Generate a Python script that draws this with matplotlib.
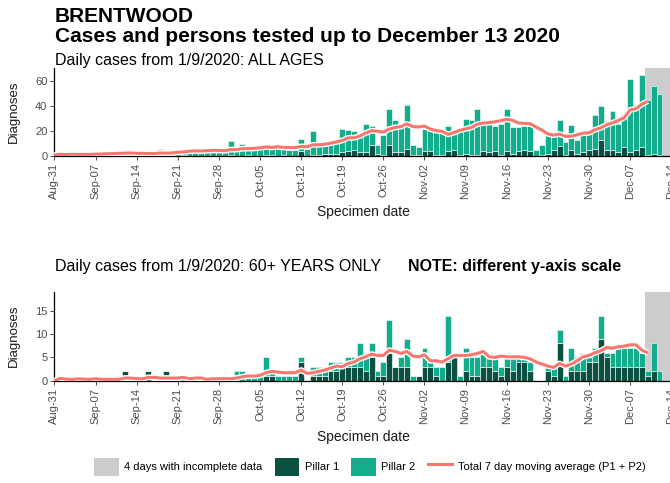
import matplotlib
matplotlib.use("Agg")
import matplotlib.pyplot as plt
from matplotlib.patches import Patch
from matplotlib.lines import Line2D
import numpy as np
import pandas as pd

plt.rcParams["font.family"] = ["Liberation Sans", "DejaVu Sans"]

# ==========================
# Data
# ==========================

START = "2020-08-31"
dates = pd.date_range(START, periods=105)

# all ages: total diagnoses per day and the pillar 1 part of it
all_total = [
    1, 2, 1, 2, 1, 2, 1, 3, 2, 3, 2, 3, 3, 2, 1, 2, 2, 2, 6, 2, 3,
    5, 4, 6, 4, 5, 4, 5, 4, 3, 12, 4, 10, 5, 6, 7, 8, 9, 8, 6, 5, 5,
    14, 6, 20, 8, 9, 11, 12, 22, 21, 20, 18, 26, 24, 9, 17, 38, 29, 23, 41, 9, 7,
    22, 21, 20, 19, 24, 19, 20, 30, 29, 38, 26, 26, 24, 26, 38, 23, 23, 24, 24, 5,
    9, 17, 16, 29, 11, 25, 13, 18, 19, 33, 40, 28, 36, 26, 34, 62, 40, 65, 45, 56, 50, 0,
]
all_p1 = [
    0, 0, 0, 0, 0, 0, 0, 0, 1, 0, 0, 0, 2, 0, 0, 0, 2, 0, 0, 2, 0,
    0, 1, 0, 0, 0, 0, 0, 0, 0, 1, 0, 0, 1, 0, 0, 1, 1, 0, 1, 0, 0,
    4, 0, 1, 1, 2, 2, 2, 3, 4, 5, 3, 3, 9, 2, 1, 9, 3, 3, 6, 1, 1,
    4, 4, 1, 1, 4, 5, 1, 2, 1, 1, 4, 3, 4, 1, 4, 2, 4, 5, 4, 0,
    1, 2, 5, 8, 1, 5, 2, 3, 5, 6, 13, 5, 5, 3, 7, 3, 5, 7, 1, 2, 1, 0,
]

# 60+ years only
old_total = [
    0, 1, 0, 0, 1, 0, 0, 1, 0, 0, 0, 1, 2, 0, 0, 0, 2, 0, 0, 2, 0,
    0, 1, 0, 1, 0, 0, 1, 0, 1, 0, 2, 2, 1, 1, 1, 5, 2, 1, 1, 1, 1,
    5, 0, 3, 3, 3, 4, 4, 4, 5, 5, 8, 6, 8, 2, 4, 13, 3, 5, 9, 1, 1,
    7, 4, 3, 3, 14, 6, 1, 7, 5, 5, 6, 6, 5, 3, 6, 5, 5, 5, 4, 0,
    0, 3, 3, 11, 1, 7, 5, 6, 5, 7, 14, 6, 6, 7, 7, 7, 7, 6, 2, 8, 2, 0,
]
old_p1 = [
    0, 0, 0, 0, 0, 0, 0, 0, 0, 0, 0, 0, 2, 0, 0, 0, 2, 0, 0, 2, 0,
    0, 0, 0, 0, 0, 0, 0, 0, 0, 0, 0, 0, 0, 0, 0, 1, 1, 0, 0, 0, 0,
    4, 0, 1, 1, 1, 2, 2, 3, 3, 3, 3, 2, 5, 1, 1, 6, 3, 3, 3, 0, 1,
    3, 3, 1, 0, 4, 5, 0, 2, 1, 1, 3, 3, 2, 1, 3, 2, 4, 4, 2, 0,
    0, 2, 1, 8, 0, 2, 2, 2, 4, 4, 9, 5, 3, 3, 3, 3, 3, 3, 1, 2, 0, 0,
]

INCOMPLETE_FROM = pd.Timestamp("2020-12-10")
MA_END = pd.Timestamp("2020-12-10")
X_END = pd.Timestamp("2020-12-14")

week_ticks = pd.date_range(START, X_END, freq="7D")

P1_COLOR = "#0B5142"
P2_COLOR = "#12AD8C"
GREY = "#CCCCCC"
RED = "#F8766D"
TEXT_GREY = "#4D4D4D"

# ==========================
# Figure
# ==========================

fig = plt.figure(figsize=(6.7, 4.83), dpi=100)

W, H = 670.0, 483.0
ax_left = 54.4 / W
ax_width = (671.2 - 54.4) / W

ax_top = fig.add_axes([ax_left, 1 - 156.2 / H, ax_width, (156.2 - 68) / H])
ax_bot = fig.add_axes([ax_left, 1 - 380.7 / H, ax_width, (380.7 - 292.3) / H])


def draw_panel(ax, total, p1, ymax, yticks):

    total = np.array(total)
    p1 = np.array(p1)
    p2 = total - p1

    ax.axvspan(INCOMPLETE_FROM - pd.Timedelta(hours=12),
               X_END + pd.Timedelta(days=2),
               color=GREY, lw=0, zorder=0)

    ax.bar(dates, p1, width=1.0, color=P1_COLOR,
           edgecolor="white", linewidth=0.4, zorder=2)
    ax.bar(dates, p2, bottom=p1, width=1.0, color=P2_COLOR,
           edgecolor="white", linewidth=0.4, zorder=2)

    # trailing 7 day average, stopped at the first incomplete day
    ma = pd.Series(total, index=dates).rolling(7, min_periods=1).mean()
    ma = ma[ma.index <= MA_END]
    ax.plot(ma.index, ma.values, color="white", lw=4.2,
            solid_capstyle="butt", zorder=3)
    ax.plot(ma.index, ma.values, color=RED, lw=2.2,
            solid_capstyle="butt", zorder=4)

    ax.set_xlim(dates[0], X_END)
    ax.set_ylim(0, ymax)
    ax.set_yticks(yticks)

    ax.set_xticks(week_ticks)
    ax.set_xticklabels([d.strftime("%b-%d") for d in week_ticks],
                       rotation=90, ha="center", va="top")

    for side in ["top", "right"]:
        ax.spines[side].set_visible(False)
    for side in ["left", "bottom"]:
        ax.spines[side].set_linewidth(0.9)
        ax.spines[side].set_color("black")

    ax.tick_params(axis="both", labelsize=8, colors=TEXT_GREY,
                   length=3, width=0.7, pad=2)
    ax.tick_params(axis="both", labelcolor=TEXT_GREY)


draw_panel(ax_top, all_total, all_p1, 70.6, [0, 20, 40, 60])
draw_panel(ax_bot, old_total, old_p1, 19.0, [0, 5, 10, 15])

# ==========================
# Text
# ==========================

def fy(y):
    return 1 - y / H


fig.text(55 / W, fy(16), "BRENTWOOD", fontsize=15,
         weight="bold", va="center")
fig.text(55 / W, fy(37), "Cases and persons tested up to December 13 2020",
         fontsize=15, weight="bold", va="center")

fig.text(55 / W, fy(60), "Daily cases from 1/9/2020: ALL AGES",
         fontsize=11.5, va="center")
fig.text(55 / W, fy(266), "Daily cases from 1/9/2020: 60+ YEARS ONLY",
         fontsize=11.5, va="center")
fig.text(408 / W, fy(266), "NOTE: different y-axis scale",
         fontsize=11.5, weight="bold", va="center")

for y in [212, 437]:
    fig.text(363 / W, fy(y), "Specimen date", fontsize=10,
             ha="center", va="center", color="#1A1A1A")

for y in [112, 336]:
    fig.text(14 / W, fy(y), "Diagnoses", fontsize=9.5, rotation=90,
             ha="center", va="center", color="#1A1A1A")

# ==========================
# Legend
# ==========================

handles = [
    Patch(facecolor=GREY, edgecolor="none"),
    Patch(facecolor=P1_COLOR, edgecolor="none"),
    Patch(facecolor=P2_COLOR, edgecolor="none"),
    Line2D([0], [0], color=RED, lw=2.2),
]
labels = [
    "4 days with incomplete data",
    "Pillar 1",
    "Pillar 2",
    "Total 7 day moving average (P1 + P2)",
]

fig.legend(handles, labels, loc="center", bbox_to_anchor=(370 / W, fy(467)),
           ncol=4, frameon=False, fontsize=8, handlelength=2.2,
           handleheight=2.2, columnspacing=1.1, handletextpad=0.5)

fig.savefig("out.png", dpi=100)
